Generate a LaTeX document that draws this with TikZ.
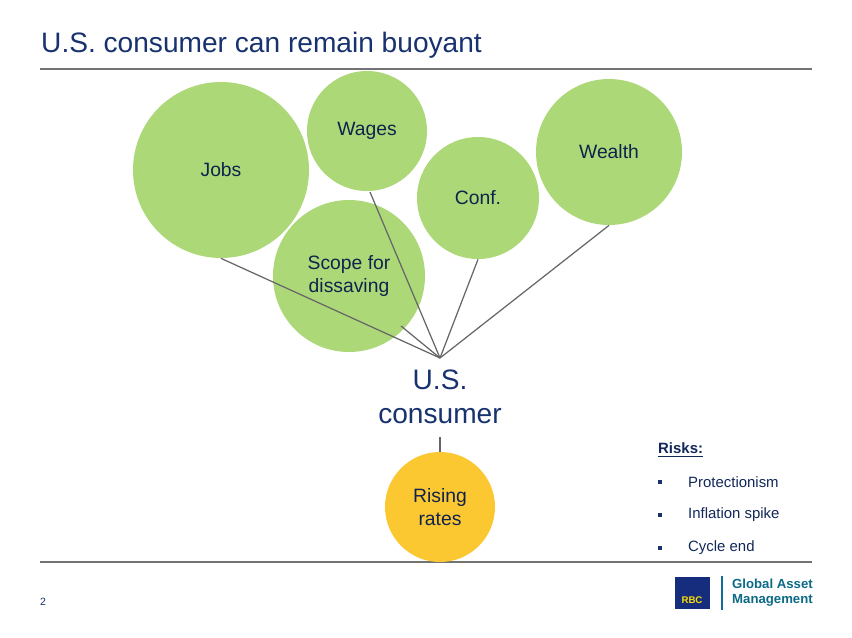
\documentclass[tikz,border=0pt]{standalone}
\usepackage{fontspec}
\setmainfont{Liberation Sans}
\usetikzlibrary{positioning}
\definecolor{rbcblue}{RGB}{23,50,110}
\definecolor{leaf}{RGB}{173,216,120}
\definecolor{sun}{RGB}{252,200,50}
\tikzset{
  bubble/.style={circle, fill=leaf, inner sep=0pt, font=\fontsize{11}{13.5}\selectfont, text=rbcblue!70!black, align=center},
  spoke/.style={draw=black!60, line width=0.7pt},
  rule/.style={draw=black!55, line width=0.7pt},
  risk/.style={anchor=west, font=\fontsize{8.5}{10}\selectfont, text=rbcblue!80!black}
}
\begin{document}
\begin{tikzpicture}[x=0.02cm, y=-0.02cm]
    \useasboundingbox (0,0) rectangle (852,637);
    \fill[white] (0,0) rectangle (852,637);
    % heading
    \node[anchor=west, text=rbcblue, font=\fontsize{16}{18}\selectfont] (title) at (35,45) {U.S. consumer can remain buoyant};
    \draw[rule] (40,69) -- (812,69);
    \draw[rule] (40,562) -- (812,562);

    % bubbles
    \node[bubble, minimum size=176*0.02cm] (jobs) at (221,170) {\raisebox{-2pt}{Jobs}};
    \node[bubble, minimum size=120*0.02cm] (wages) at (367,131) {\raisebox{-2pt}{Wages}};
    \node[bubble, minimum size=122*0.02cm] (conf) at (478,198) {Conf.};
    \node[bubble, minimum size=146*0.02cm] (wealth) at (609,152) {Wealth};
    \node[bubble, minimum size=152*0.02cm] (scope) at (349,276) {Scope for\\dissaving};
    \node[bubble, fill=sun, minimum size=110*0.02cm] (rates) at (440,507) {Rising\\rates};

    % consumer hub
    \coordinate (hub) at (440,358);
    \node[text=rbcblue, align=center, font=\fontsize{16}{19}\selectfont] (consumer) at (440,397) {U.S.\\consumer};
    \draw[spoke] (jobs.south) -- (hub);
    \draw[spoke] (370,192) -- (hub);
    \draw[spoke] (401,326) -- (hub);
    \draw[spoke] (conf.south) -- (hub);
    \draw[spoke] (wealth.south) -- (hub);
    \draw[spoke] (440,437) -- (rates.north);

    % risks
    \node[risk, font=\fontsize{8.5}{10}\selectfont\bfseries] (risks) at (652,450) {\underline{Risks:}};
    \foreach \y/\txt in {482/Protectionism, 515/Inflation spike, 548/Cycle end}{
      \fill[rbcblue] (658,\y-2) rectangle (662,\y+2);
      \node[risk] at (682,\y) {\txt};
    }

    % footer
    \node[font=\fontsize{6}{7}\selectfont, text=rbcblue] (page) at (43,602) {2};
    \fill[rbcblue!90!blue] (675,577) rectangle (710,609);
    \node[text=yellow!80!orange, font=\fontsize{5.5}{6}\selectfont\bfseries] (rbc) at (692,600) {RBC};
    \draw[rbcblue!70!cyan, line width=0.6pt] (722,576) -- (722,610);
    \node[anchor=west, align=left, text=rbcblue!60!cyan!80!black, font=\fontsize{7.5}{8.5}\selectfont\bfseries] (gam) at (726,593) {Global Asset\\Management};
\end{tikzpicture}
\end{document}
